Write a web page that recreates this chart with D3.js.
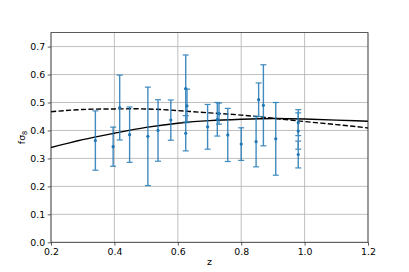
<!DOCTYPE html>
<html><head><meta charset="utf-8">
<script src="https://cdn.jsdelivr.net/npm/d3@7"></script>
<style>html,body{margin:0;padding:0;background:#fff;} svg{display:block;font-family:"DejaVu Sans",sans-serif;}</style>
</head><body>
<svg id="c" width="409" height="272"></svg>
<script>
// Data points (x position as plotted, value, error)
const pointX = [0.340, 0.396, 0.4167, 0.448, 0.5056, 0.5376, 0.578, 0.625, 0.625, 0.629, 0.694, 0.7246, 0.730, 0.7576, 0.800, 0.847, 0.855, 0.870, 0.909, 0.980, 0.980, 0.980];
const pointY = [0.364, 0.342, 0.482, 0.385, 0.379, 0.400, 0.437, 0.550, 0.390, 0.488, 0.413, 0.440, 0.4602, 0.384, 0.3512, 0.360, 0.510, 0.490, 0.370, 0.428, 0.398, 0.314];
const pointErr = [0.106, 0.070, 0.116, 0.099, 0.176, 0.110, 0.072, 0.120, 0.063, 0.060, 0.080, 0.060, 0.0378, 0.095, 0.0583, 0.090, 0.060, 0.145, 0.130, 0.0465, 0.065, 0.048];
// Model curves
const curveX = [0.2, 0.3, 0.4, 0.5, 0.6, 0.7, 0.8, 0.9, 1.0, 1.1, 1.2];
const solidY = [0.339, 0.367, 0.390, 0.411, 0.426, 0.435, 0.440, 0.443, 0.441, 0.437, 0.433];
const dashedY = [0.467, 0.475, 0.477, 0.477, 0.471, 0.463, 0.455, 0.444, 0.432, 0.421, 0.409];
const xTicks = [0.2, 0.4, 0.6, 0.8, 1.0, 1.2];
const yTicks = [0.0, 0.1, 0.2, 0.3, 0.4, 0.5, 0.6, 0.7];

const svg = d3.select("#c");
const L = 51, R = 368, T = 32.6, B = 242.3;
const x = d3.scaleLinear().domain([0.2, 1.2]).range([L, R]);
const y = d3.scaleLinear().domain([0, 0.75]).range([B, T]);
const blue = "#1f77b4";

// grid
const g = svg.append("g");
g.selectAll("line.gx").data(xTicks).join("line")
  .attr("x1", d => x(d)).attr("x2", d => x(d)).attr("y1", T).attr("y2", B)
  .attr("stroke", "#b0b0b0").attr("stroke-width", 0.8);
g.selectAll("line.gy").data(yTicks).join("line")
  .attr("y1", d => y(d)).attr("y2", d => y(d)).attr("x1", L).attr("x2", R)
  .attr("stroke", "#b0b0b0").attr("stroke-width", 0.8);

svg.append("clipPath").attr("id", "clip").append("rect")
  .attr("x", L).attr("y", T).attr("width", R - L).attr("height", B - T);

const line = d3.line().x(d => x(d[0])).y(d => y(d[1])).curve(d3.curveNatural);
const pl = svg.append("g").attr("clip-path", "url(#clip)");
pl.append("path").datum(curveX.map((v, i) => [v, solidY[i]])).attr("d", line)
  .attr("fill", "none").attr("stroke", "#000").attr("stroke-width", 1.4);
pl.append("path").datum(curveX.map((v, i) => [v, dashedY[i]])).attr("d", line)
  .attr("fill", "none").attr("stroke", "#000").attr("stroke-width", 1.4)
  .attr("stroke-dasharray", "5.2,2.3");

// error bars
const eb = svg.append("g").attr("stroke", blue).attr("opacity", 0.85);
const pts = pointX.map((v, i) => ({x: v, y: pointY[i], e: pointErr[i]}));
eb.selectAll("line.v").data(pts).join("line")
  .attr("x1", d => x(d.x)).attr("x2", d => x(d.x))
  .attr("y1", d => y(d.y - d.e)).attr("y2", d => y(d.y + d.e)).attr("stroke-width", 1.4);
eb.selectAll("line.ct").data(pts).join("line")
  .attr("x1", d => x(d.x) - 3).attr("x2", d => x(d.x) + 3)
  .attr("y1", d => y(d.y + d.e)).attr("y2", d => y(d.y + d.e)).attr("stroke-width", 1.2);
eb.selectAll("line.cb").data(pts).join("line")
  .attr("x1", d => x(d.x) - 3).attr("x2", d => x(d.x) + 3)
  .attr("y1", d => y(d.y - d.e)).attr("y2", d => y(d.y - d.e)).attr("stroke-width", 1.2);
svg.append("g").selectAll("circle").data(pts).join("circle")
  .attr("cx", d => x(d.x)).attr("cy", d => y(d.y)).attr("r", 1.6).attr("fill", blue);

// axes
const fmt = d3.format(".1f");
const xa = svg.append("g").attr("transform", `translate(0,${B})`)
  .call(d3.axisBottom(x).tickValues(xTicks).tickFormat(fmt).tickSize(3.3).tickPadding(2.5).tickSizeOuter(0));
const ya = svg.append("g").attr("transform", `translate(${L},0)`)
  .call(d3.axisLeft(y).tickValues(yTicks).tickFormat(fmt).tickSize(3.3).tickPadding(2.5).tickSizeOuter(0));
[xa, ya].forEach(a => {
  a.select(".domain").remove();
  a.selectAll("text").attr("font-size", 9.4).attr("fill", "#000").attr("font-family", "DejaVu Sans");
  a.selectAll("line").attr("stroke", "#333").attr("stroke-width", 0.8);
});
// spines
svg.append("rect").attr("x", L).attr("y", T).attr("width", R - L).attr("height", B - T)
  .attr("fill", "none").attr("stroke", "#333").attr("stroke-width", 0.8);

svg.append("text").attr("x", (L + R) / 2).attr("y", 265).attr("text-anchor", "middle")
  .attr("font-size", 9.4).text("z");
const yl = svg.append("text").attr("transform", `translate(25,${(T + B) / 2}) rotate(-90)`)
  .attr("text-anchor", "middle").attr("font-size", 9.4);
yl.append("tspan").text("fσ");
yl.append("tspan").attr("font-size", 6.6).attr("dy", 2).text("8");
</script>
</body></html>
